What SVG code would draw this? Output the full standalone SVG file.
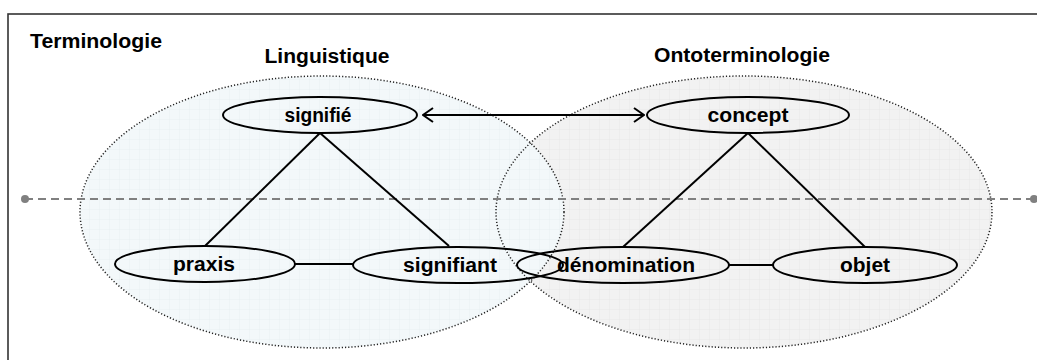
<svg xmlns="http://www.w3.org/2000/svg" width="1037" height="360" viewBox="0 0 1037 360">
<style>
.t{font-family:"Liberation Sans",Arial,sans-serif;font-weight:bold;fill:#000}
.node{fill:none;stroke:#000;stroke-width:2}
.edge{stroke:#000;stroke-width:2;fill:none}
.zone{stroke:#222;stroke-width:1.5;stroke-dasharray:1.2 2}
</style>
<defs>
<pattern id="gridB" width="10" height="10" patternUnits="userSpaceOnUse">
<rect width="10" height="10" fill="#f3f8fa"/>
<path d="M10 0V10M0 10H10" stroke="#e4edf0" stroke-width="0.8" fill="none"/>
</pattern>
<pattern id="gridG" width="10" height="10" patternUnits="userSpaceOnUse">
<rect width="10" height="10" fill="#f2f2f2"/>
<path d="M10 0V10M0 10H10" stroke="#e4e4e4" stroke-width="0.8" fill="none"/>
</pattern>
<marker id="open" viewBox="0 0 12 16" refX="11" refY="8" markerWidth="12" markerHeight="16" markerUnits="userSpaceOnUse" orient="auto-start-reverse">
<path d="M1 1L11 8L1 15" fill="none" stroke="#000" stroke-width="2"/>
</marker>
</defs>
<rect x="0" y="0" width="1037" height="360" fill="#fff"/>
<rect id="frame" x="8" y="14" width="1040" height="360" fill="none" stroke="#333" stroke-width="1.6"/>
<text class="t" x="30" y="48" font-size="20" textLength="132" lengthAdjust="spacingAndGlyphs">Terminologie</text>

<g id="zone-ontoterminologie">
<ellipse cx="744" cy="212" rx="248" ry="136" fill="url(#gridG)"/>
<text class="t" x="742" y="62" font-size="20" text-anchor="middle" textLength="176" lengthAdjust="spacingAndGlyphs">Ontoterminologie</text>
</g>
<g id="zone-linguistique">
<ellipse cx="322" cy="212" rx="242" ry="136" fill="url(#gridB)"/>
<text class="t" x="327" y="63" font-size="20" text-anchor="middle" textLength="125" lengthAdjust="spacingAndGlyphs">Linguistique</text>
</g>
<ellipse class="zone" cx="744" cy="212" rx="248" ry="136" fill="none"/>
<ellipse class="zone" cx="322" cy="212" rx="242" ry="136" fill="none"/>

<g id="axis">
<line x1="25" y1="199" x2="1034" y2="199" stroke="#808080" stroke-width="2" stroke-dasharray="8 5"/>
<circle cx="25" cy="199" r="4" fill="#808080"/>
<circle cx="1034" cy="199" r="4" fill="#808080"/>
</g>

<g id="connectors">
<line class="edge" x1="320" y1="133" x2="205" y2="246"/>
<line class="edge" x1="320" y1="133" x2="449" y2="246"/>
<line class="edge" x1="295" y1="264" x2="353" y2="264"/>
<line class="edge" x1="748" y1="133" x2="623" y2="247"/>
<line class="edge" x1="748" y1="133" x2="865" y2="247"/>
<line class="edge" x1="729" y1="265" x2="774" y2="265"/>
<line class="edge" x1="423" y1="115" x2="644" y2="115" stroke-width="1.8" marker-start="url(#open)" marker-end="url(#open)"/>
</g>

<g id="n-signifie">
<ellipse class="node" cx="320" cy="115" rx="97" ry="18"/>
<text class="t" x="318" y="122" font-size="20" text-anchor="middle" textLength="67" lengthAdjust="spacingAndGlyphs">signifié</text>
</g>
<g id="n-concept">
<ellipse class="node" cx="748" cy="115" rx="101" ry="18"/>
<text class="t" x="748" y="122" font-size="20" text-anchor="middle" textLength="81" lengthAdjust="spacingAndGlyphs">concept</text>
</g>
<g id="n-praxis">
<ellipse class="node" cx="205" cy="264" rx="90" ry="18"/>
<text class="t" x="204" y="271" font-size="20" text-anchor="middle" textLength="62" lengthAdjust="spacingAndGlyphs">praxis</text>
</g>
<g id="n-signifiant">
<ellipse class="node" cx="458" cy="265" rx="105" ry="18"/>
<text class="t" x="450" y="272" font-size="20" text-anchor="middle" textLength="94" lengthAdjust="spacingAndGlyphs">signifiant</text>
</g>
<g id="n-denomination">
<ellipse class="node" cx="623" cy="265" rx="106" ry="18"/>
<text class="t" x="626" y="272" font-size="20" text-anchor="middle" textLength="138" lengthAdjust="spacingAndGlyphs">dénomination</text>
</g>
<g id="n-objet">
<ellipse class="node" cx="865" cy="265" rx="92" ry="18"/>
<text class="t" x="865" y="272" font-size="20" text-anchor="middle" textLength="50" lengthAdjust="spacingAndGlyphs">objet</text>
</g>
</svg>
